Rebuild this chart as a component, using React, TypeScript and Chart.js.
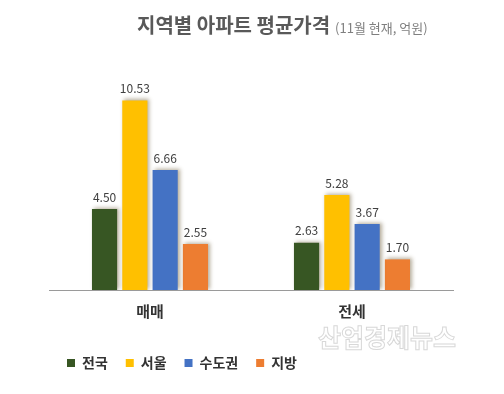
import React, { useEffect, useRef } from "react";
import { Chart, registerables } from "chart.js";

Chart.register(...registerables);

const categories = ["매매", "전세"];
const seriesNames = ["전국", "서울", "수도권", "지방"];
const nationwide = [4.5, 2.63];
const seoul = [10.53, 5.28];
const capital = [6.66, 3.67];
const provinces = [2.55, 1.7];
const colors = ["#375623", "#FFC000", "#4472C4", "#ED7D31"];
const titleMain = "지역별 아파트 평균가격";
const titleSub = "(11월 현재, 억원)";
const watermark = "산업경제뉴스";

const FONT = "'Noto Sans CJK KR', 'Noto Sans', sans-serif";

export default function App() {
  const ref = useRef<HTMLCanvasElement | null>(null);

  useEffect(() => {
    document.body.style.margin = "0";
    const canvas = ref.current!;
    const values = [nationwide, seoul, capital, provinces];

    const shadowPlugin = {
      id: "barShadow",
      beforeDatasetsDraw(chart: any) {
        const ctx = chart.ctx;
        ctx.save();
        ctx.shadowColor = "rgba(90,70,30,0.45)";
        ctx.shadowBlur = 4;
        ctx.shadowOffsetX = 2;
        ctx.shadowOffsetY = -1;
      },
      afterDatasetsDraw(chart: any) {
        chart.ctx.restore();
        const ctx = chart.ctx;
        ctx.save();
        ctx.font = `12px ${FONT}`;
        ctx.fillStyle = "#404040";
        ctx.textAlign = "center";
        ctx.textBaseline = "bottom";
        chart.data.datasets.forEach((ds: any, i: number) => {
          const meta = chart.getDatasetMeta(i);
          meta.data.forEach((bar: any, j: number) => {
            ctx.fillText((ds.data[j] as number).toFixed(2), bar.x, bar.y - 6);
          });
        });
        ctx.restore();
      },
    };

    const textPlugin = {
      id: "texts",
      afterDraw(chart: any) {
        const ctx = chart.ctx;
        ctx.save();
        ctx.textBaseline = "alphabetic";
        ctx.textAlign = "left";
        ctx.font = `bold 20px ${FONT}`;
        ctx.fillStyle = "#595959";
        ctx.fillText(titleMain, 137, 33);
        const w = ctx.measureText(titleMain).width;
        ctx.font = `13px ${FONT}`;
        ctx.fillStyle = "#7f7f7f";
        ctx.fillText(titleSub, 137 + w + 5, 33);
        ctx.font = `bold 25px ${FONT}`;
        ctx.fillStyle = "#ffffff";
        ctx.strokeStyle = "#d8d8d8";
        ctx.lineWidth = 1;
        ctx.fillText(watermark, 318, 347);
        ctx.strokeText(watermark, 318, 347);
        ctx.restore();
      },
    };

    const chart = new Chart(canvas, {
      type: "bar",
      data: {
        labels: categories,
        datasets: seriesNames.map((name, i) => ({
          label: name,
          data: values[i],
          backgroundColor: colors[i],
          borderWidth: 0,
          categoryPercentage: 0.6,
          barPercentage: 0.83,
        })),
      },
      options: {
        animation: false,
        responsive: false,
        maintainAspectRatio: false,
        layout: { padding: { top: 74, left: 49, right: 51, bottom: 14 } },
        plugins: {
          legend: {
            position: "bottom",
            align: "start",
            labels: {
              boxWidth: 8,
              boxHeight: 8,
              padding: 18,
              color: "#333333",
              font: { family: FONT, size: 14, weight: "bold" },
            },
          },
          title: { display: false },
          tooltip: { enabled: false },
        },
        scales: {
          x: {
            grid: { display: false, drawTicks: false },
            border: { display: true, color: "#9a9a9a", width: 1 },
            ticks: {
              color: "#333333",
              padding: 12,
              font: { family: FONT, size: 15, weight: "bold" },
            },
            afterFit(s: any) {
              s.height = 48;
            },
          },
          y: {
            display: false,
            min: 0,
            max: 12,
          },
        },
      },
      plugins: [shadowPlugin, textPlugin],
    });
    return () => chart.destroy();
  }, []);

  return (
    <div style={{ position: "fixed", left: 0, top: 0, width: 504, height: 394, background: "#fff" }}>
      <canvas ref={ref} width={504} height={394} style={{ width: 504, height: 394, display: "block" }} />
    </div>
  );
}
